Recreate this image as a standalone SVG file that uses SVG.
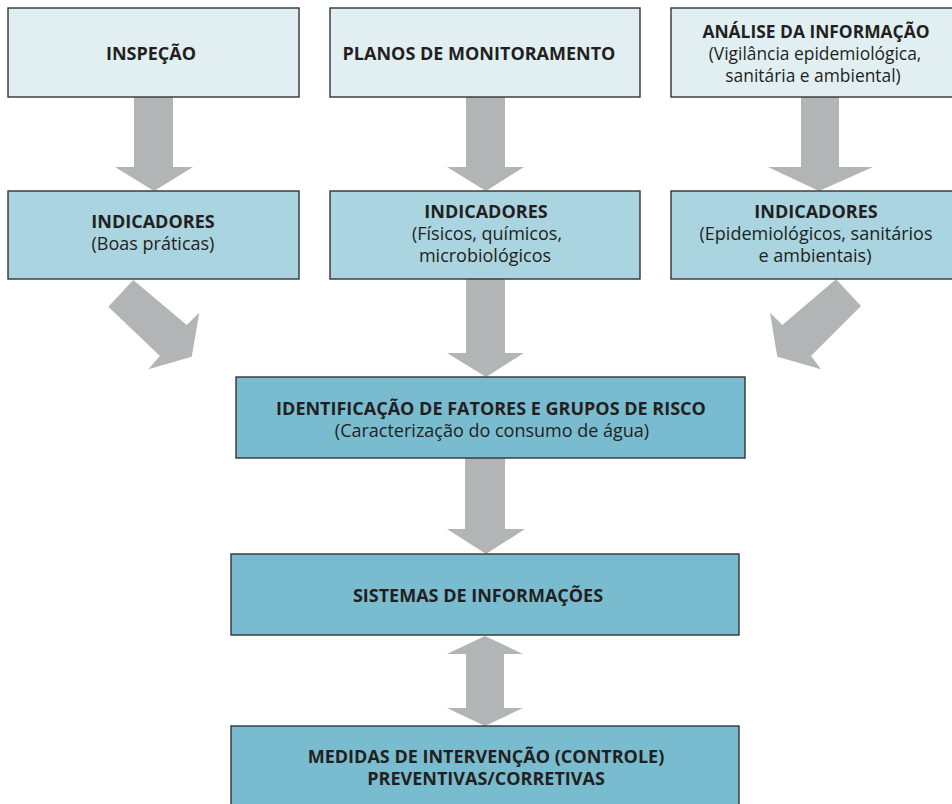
<svg xmlns="http://www.w3.org/2000/svg" width="952" height="804" viewBox="0 0 952 804">
<style>
.b{stroke:#333;stroke-width:1.4}
.l1{fill:#e1eff3}
.l2{fill:#a9d4e0}
.l3{fill:#79bcd0}
.ar{fill:#b3b4b6}
text{font-family:"Open Sans","Noto Sans","Liberation Sans",sans-serif;font-size:18px;fill:#231f20;text-anchor:middle}
.t{font-weight:bold}
.s{font-size:17.4px}
</style>
<rect width="952" height="804" fill="#fff"/>
<g id="connectors">
<path class="ar" d="M134,97 H173 V167 H193 L154,191 L115,167 H134 Z"/>
<path class="ar" d="M466,97 H505 V167 H524 L486,191 L447,167 H466 Z"/>
<path class="ar" d="M801,97 H839 V167 H873 L819,191 L768,167 H801 Z"/>
<path class="ar" d="M133.3,280 L186.7,325 L199.3,312.7 L191.7,356.7 L148.3,369.3 L160,356 L108.3,306.7 Z"/>
<path class="ar" d="M466,279 H505 V353 H524 L486,377 L447,353 H466 Z"/>
<path class="ar" d="M836,279.3 L861,306 L811,356 L821,369.3 L777.3,356.7 L770,312.7 L782.3,325 Z"/>
<path class="ar" d="M465,458 H505 V529 H525 L486,554 L447,529 H465 Z"/>
<path class="ar" d="M485,636 L523,654 H504 V708 H523 L485,726 L447,708 H466 V654 H447 Z"/>
</g>
<g id="inspecao">
<rect class="b l1" x="8" y="8" width="291" height="89"/>
<text class="t" x="151" y="60">INSPEÇÃO</text>
</g>
<g id="planos">
<rect class="b l1" x="330" y="8" width="310" height="89"/>
<text class="t" x="479" y="60">PLANOS DE MONITORAMENTO</text>
</g>
<g id="analise">
<rect class="b l1" x="671" y="8" width="290" height="89"/>
<text class="s"><tspan class="t" x="816" y="38">ANÁLISE DA INFORMAÇÃO</tspan><tspan x="815" y="60">(Vigilância epidemiológica,</tspan><tspan x="813" y="82">sanitária e ambiental)</tspan></text>
</g>
<g id="ind-boas">
<rect class="b l2" x="8" y="191" width="291" height="88"/>
<text><tspan class="t" x="153" y="228">INDICADORES</tspan><tspan x="153" y="250">(Boas práticas)</tspan></text>
</g>
<g id="ind-fisicos">
<rect class="b l2" x="330" y="191" width="310" height="88"/>
<text><tspan class="t" x="486" y="218">INDICADORES</tspan><tspan x="487" y="240">(Físicos, químicos,</tspan><tspan x="485" y="262">microbiológicos</tspan></text>
</g>
<g id="ind-epi">
<rect class="b l2" x="671" y="191" width="290" height="88"/>
<text><tspan class="t" x="816" y="218">INDICADORES</tspan><tspan x="816" y="240">(Epidemiológicos, sanitários</tspan><tspan x="815" y="262">e ambientais)</tspan></text>
</g>
<g id="identificacao">
<rect class="b l3" x="236" y="377" width="509" height="81"/>
<text><tspan class="t" x="491" y="415">IDENTIFICAÇÃO DE FATORES E GRUPOS DE RISCO</tspan><tspan x="492" y="437">(Caracterização do consumo de água)</tspan></text>
</g>
<g id="sistemas">
<rect class="b l3" x="231" y="554" width="508" height="81"/>
<text class="t" x="478" y="602">SISTEMAS DE INFORMAÇÕES</text>
</g>
<g id="medidas">
<rect class="b l3" x="231" y="726" width="508" height="90"/>
<text class="t"><tspan x="486" y="763">MEDIDAS DE INTERVENÇÃO (CONTROLE)</tspan><tspan x="486" y="785">PREVENTIVAS/CORRETIVAS</tspan></text>
</g>
</svg>
